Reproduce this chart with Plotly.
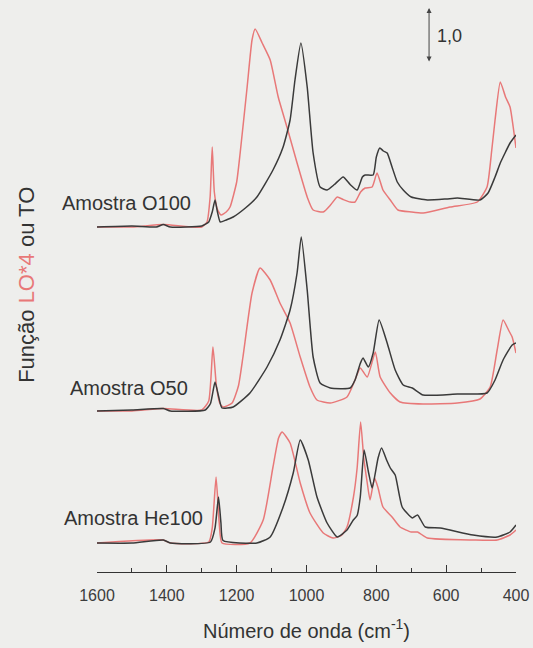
import plotly.graph_objects as go

# ---------------- data (wavenumber in cm-1, intensity in arbitrary units) ----------------
o100_to_wn = [1600, 1500, 1430, 1410, 1390, 1300, 1280, 1270, 1262, 1255, 1247, 1230, 1210, 1175, 1142,
              1096, 1067, 1047, 1033, 1016, 998, 981, 961, 941, 920, 895, 875, 855, 840, 832, 809, 800,
              790, 780, 769, 755, 740, 723, 700, 654, 600, 568, 503, 480, 460, 445, 430, 417, 400]
o100_to_y = [0.0, 0.02, 0.0, 0.05, 0.0, 0.02, 0.1, 0.3, 0.54, 0.3, 0.1, 0.14, 0.2, 0.38, 0.6,
             1.14, 1.6, 2.14, 2.94, 3.68, 2.8, 1.48, 0.8, 0.74, 0.85, 1.0, 0.85, 0.74, 1.0, 1.04, 1.04, 1.4,
             1.58, 1.52, 1.48, 1.2, 0.9, 0.74, 0.6, 0.54, 0.56, 0.58, 0.54, 0.68, 1.0, 1.28, 1.5, 1.68, 1.84]

o100_lo_wn = [1600, 1500, 1410, 1300, 1285, 1276, 1270, 1264, 1255, 1245, 1230, 1219, 1200, 1190, 1170,
              1156, 1147, 1127, 1104, 1081, 1056, 1027, 998, 981, 952, 930, 912, 895, 875, 861, 845, 832,
              812, 798, 781, 760, 738, 700, 666, 589, 511, 483, 470, 460, 445, 430, 417, 408, 400]
o100_lo_y = [0.0, 0.0, 0.05, 0.0, 0.1, 0.6, 1.6, 0.7, 0.35, 0.24, 0.3, 0.4, 0.9, 1.48, 2.8,
             3.74, 3.96, 3.68, 3.34, 2.6, 2.0, 1.28, 0.6, 0.34, 0.3, 0.45, 0.6, 0.55, 0.5, 0.5, 0.7, 0.78,
             0.8, 1.08, 0.74, 0.54, 0.34, 0.3, 0.28, 0.4, 0.5, 0.8, 1.5, 2.14, 2.9, 2.6, 2.4, 2.0, 1.58]

o50_to_wn = [1600, 1500, 1410, 1390, 1290, 1275, 1262, 1252, 1242, 1210, 1162, 1113, 1076, 1047, 1027,
             1015, 998, 981, 961, 932, 875, 861, 846, 838, 823, 809, 792, 769, 746, 723, 697, 666, 568,
             483, 460, 437, 411, 400]
o50_to_y = [0.0, 0.02, 0.05, 0.0, 0.02, 0.15, 0.58, 0.3, 0.06, 0.08, 0.36, 0.88, 1.42, 2.02, 2.76,
            3.48, 2.42, 1.08, 0.56, 0.46, 0.46, 0.62, 0.95, 1.06, 0.88, 1.16, 1.82, 1.36, 0.82, 0.52, 0.46,
            0.32, 0.34, 0.36, 0.62, 1.02, 1.32, 1.36]

o50_lo_wn = [1600, 1500, 1410, 1300, 1280, 1268, 1258, 1248, 1239, 1213, 1195, 1182, 1156, 1133, 1104,
             1076, 1047, 1018, 990, 970, 932, 884, 861, 846, 826, 803, 789, 760, 732, 666, 568, 503, 474,
             454, 437, 420, 411, 400]
o50_lo_y = [0.0, 0.0, 0.05, 0.02, 0.2, 1.28, 0.5, 0.15, 0.08, 0.16, 0.5, 1.08, 2.36, 2.86, 2.62,
            2.16, 1.76, 1.08, 0.48, 0.22, 0.16, 0.28, 0.62, 0.86, 0.68, 1.18, 0.68, 0.36, 0.18, 0.14, 0.16,
            0.24, 0.48, 1.22, 1.82, 1.6, 1.48, 1.16]

he100_to_wn = [1600, 1500, 1410, 1390, 1275, 1262, 1252, 1245, 1239, 1142, 1104, 1067, 1038, 1018, 995,
               970, 941, 912, 884, 866, 855, 846, 835, 822, 812, 795, 785, 770, 760, 746, 726, 697, 682,
               660, 617, 523, 454, 417, 400]
he100_to_y = [0.0, 0.0, 0.06, 0.0, 0.02, 0.3, 0.92, 0.4, 0.05, 0.0, 0.12, 0.72, 1.4, 2.06, 1.66,
              0.92, 0.4, 0.12, 0.26, 0.46, 0.55, 0.92, 1.86, 1.4, 1.1, 1.7, 1.9, 1.65, 1.5, 1.36, 0.72, 0.5,
              0.56, 0.32, 0.3, 0.16, 0.12, 0.22, 0.36]

he100_lo_wn = [1600, 1410, 1390, 1280, 1270, 1259, 1250, 1242, 1162, 1124, 1096, 1080, 1070, 1047, 1018,
               990, 952, 924, 900, 884, 866, 855, 845, 836, 826, 818, 805, 795, 781, 755, 732, 700, 682,
               654, 523, 454, 417, 400]
he100_lo_y = [0.0, 0.06, 0.0, 0.02, 0.3, 1.32, 0.4, 0.0, 0.0, 0.46, 1.52, 2.1, 2.22, 2.0, 1.2,
              0.6, 0.2, 0.1, 0.15, 0.32, 0.9, 1.5, 2.42, 1.7, 1.2, 0.86, 1.3, 1.1, 0.72, 0.52, 0.32, 0.22,
              0.22, 0.1, 0.06, 0.06, 0.16, 0.26]

sample_names = ["Amostra O100", "Amostra O50", "Amostra He100"]
sample_offsets = [6.9, 3.22, 0.58]
x_ticks = [1600, 1400, 1200, 1000, 800, 600, 400]
scale_bar_value = 1.0

BLACK = "#3a3a3a"
RED = "#e87878"
FONT = "Liberation Sans, Arial, sans-serif"

spectra = [
    (o100_to_wn, o100_to_y, o100_lo_wn, o100_lo_y),
    (o50_to_wn, o50_to_y, o50_lo_wn, o50_lo_y),
    (he100_to_wn, he100_to_y, he100_lo_wn, he100_lo_y),
]

fig = go.Figure()
for (tw, ty, lw, ly), off, name in zip(spectra, sample_offsets, sample_names):
    fig.add_trace(go.Scatter(x=lw, y=[v + off for v in ly], mode="lines",
                             line=dict(color=RED, width=1.5, shape="spline", smoothing=0.5),
                             name=name + " LO*4", showlegend=False))
    fig.add_trace(go.Scatter(x=tw, y=[v + off for v in ty], mode="lines",
                             line=dict(color=BLACK, width=1.5, shape="spline", smoothing=0.5),
                             name=name + " TO", showlegend=False))

# sample labels
label_pos = [(1325, 7.38), (1334, 3.68), (1291, 1.08)]
for name, (lx, ly) in zip(sample_names, label_pos):
    fig.add_annotation(x=lx, y=ly, text=name, showarrow=False, xanchor="right", yanchor="middle",
                       font=dict(family=FONT, size=20, color="#333333"))

# scale bar
bar_x = 649
bar_top = 11.28
fig.add_annotation(x=bar_x, y=bar_top, ax=bar_x, ay=bar_top - 1.1 * scale_bar_value,
                   xref="x", yref="y", axref="x", ayref="y", text="", showarrow=True,
                   arrowhead=2, arrowside="end+start", arrowsize=1, arrowwidth=1, arrowcolor="#444444")
fig.add_annotation(x=bar_x, y=bar_top - 0.55 * scale_bar_value, text="1,0", showarrow=False,
                   xanchor="left", yanchor="middle", xshift=6,
                   font=dict(family=FONT, size=18, color="#333333"))

# y-axis title (rotated, mixed colours)
fig.add_annotation(xref="paper", yref="paper", x=-0.17, y=0.506, textangle=-90,
                   text="Função <span style='color:%s'>LO*4</span> ou TO" % RED,
                   showarrow=False, xanchor="center", yanchor="middle",
                   font=dict(family=FONT, size=22, color="#333333"))

fig.update_layout(
    width=533, height=648,
    margin=dict(l=97, r=17, t=5, b=76),
    paper_bgcolor="#eeeeec", plot_bgcolor="#eeeeec",
    font=dict(family=FONT, color="#333333"),
    xaxis=dict(range=[1600, 400], tickvals=x_ticks, ticktext=[str(v) for v in x_ticks],
               ticks="inside", ticklen=7, tickwidth=1.2, tickcolor="#333333",
               minor=dict(dtick=100, ticks="inside", ticklen=4, tickwidth=1.2, tickcolor="#333333"),
               showline=True, linecolor="#333333", linewidth=1.2, showgrid=False, zeroline=False,
               ticklabelstandoff=9,
               tickfont=dict(family=FONT, size=16, color="#3c3c3c"),
               title=dict(text="Número de onda (cm<sup>-1</sup>)", standoff=20,
                          font=dict(family=FONT, size=20, color="#333333"))),
    yaxis=dict(range=[0, 11.34], showline=False, showgrid=False, zeroline=False,
               showticklabels=False, ticks=""),
)

fig.write_html("out.html")
